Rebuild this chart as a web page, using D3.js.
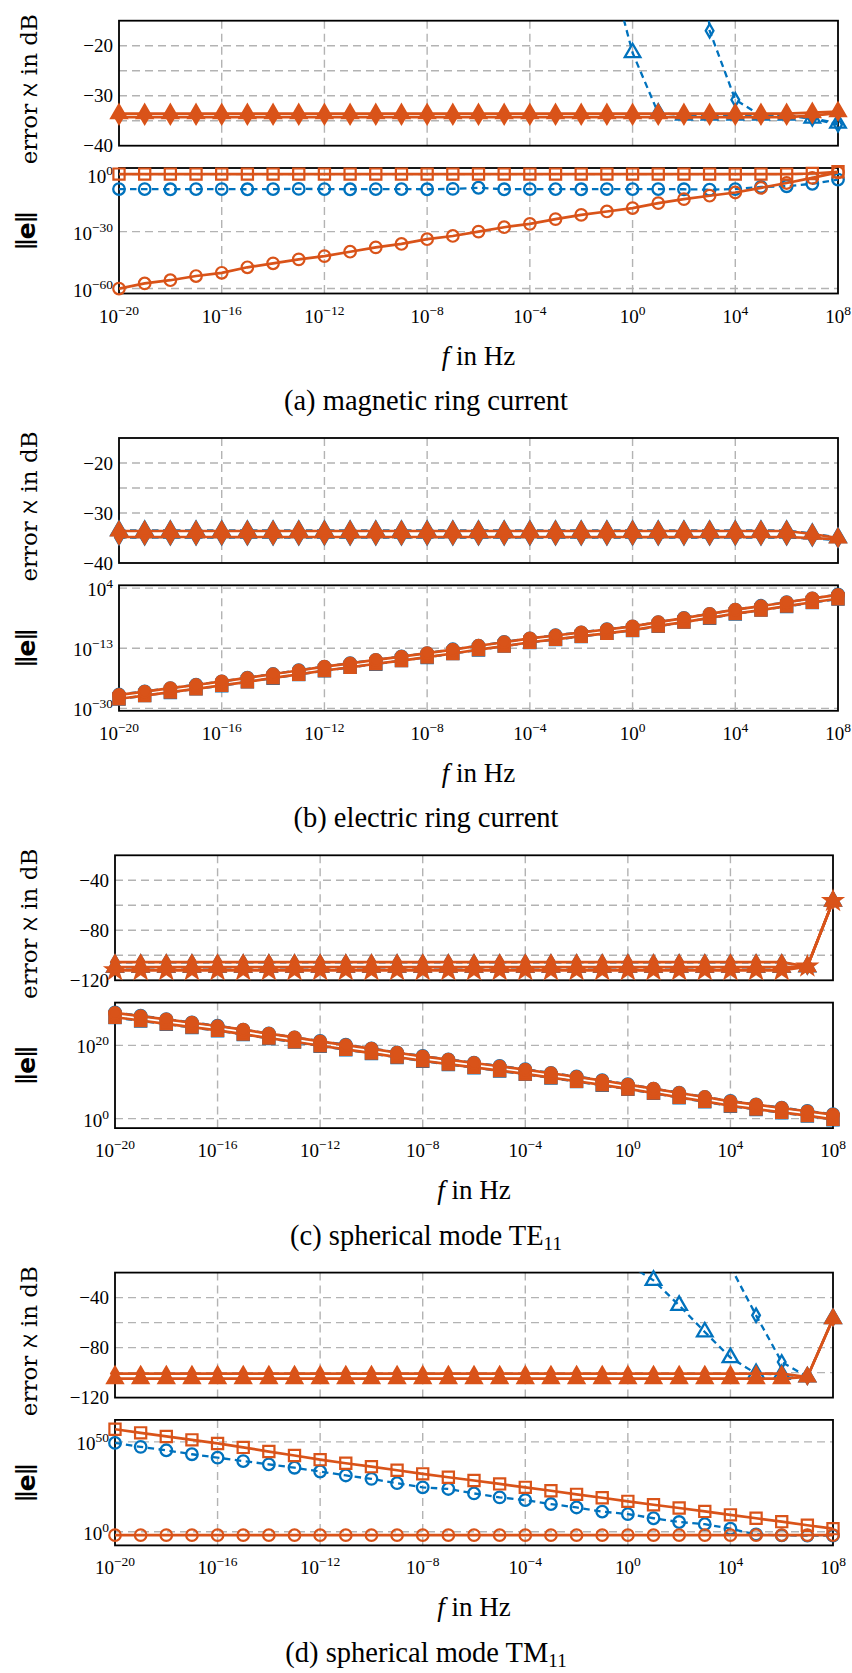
<!DOCTYPE html>
<html>
<head>
<meta charset="utf-8">
<script src="https://cdn.jsdelivr.net/npm/d3@7"></script>
<style>
  body { margin: 0; background: #fff; }
  svg text { font-family: "Liberation Serif", serif; fill: #000; }
</style>
</head>
<body>
<svg id="fig" width="852" height="1673"></svg>
<script>
// ---- frequency axis (exponents of 10, in Hz) ----
const freqExp = [-20,-19,-18,-17,-16,-15,-14,-13,-12,-11,-10,-9,-8,-7,-6,-5,-4,-3,-2,-1,0,1,2,3,4,5,6,7,8];
const xTickExp = [-20,-16,-12,-8,-4,0,4,8];

// ---- (a) magnetic ring current ----
// error in dB
const aErrBlueTri = [null,null,null,null,null,null,null,null,null,null,null,null,null,null,null,null,null,null,null,-2.0,-21.4,-33.5,-33.9,-33.9,-33.9,-33.9,-33.9,-34.5,-35.5];
const aErrBlueDia = [null,null,null,null,null,null,null,null,null,null,null,null,null,null,null,null,null,null,null,null,null,null,60,-17.0,-30.8,-34.0,-34.0,-34.6,-35.8];
const aErrOrTri   = [-33.6,-33.6,-33.6,-33.6,-33.6,-33.6,-33.6,-33.6,-33.6,-33.6,-33.6,-33.6,-33.6,-33.6,-33.6,-33.6,-33.6,-33.6,-33.6,-33.6,-33.6,-33.6,-33.6,-33.6,-33.6,-33.6,-33.6,-33.4,-33.2];
const aErrOrDia   = [-34.3,-34.3,-34.3,-34.3,-34.3,-34.3,-34.3,-34.3,-34.3,-34.3,-34.3,-34.3,-34.3,-34.3,-34.3,-34.3,-34.3,-34.3,-34.3,-34.3,-34.3,-34.3,-34.3,-34.3,-34.3,-34.3,-34.3,-34.0,-33.5];
// log10 of the error norm
const aNormOrSq     = [0.3,0.3,0.3,0.3,0.3,0.3,0.3,0.3,0.3,0.3,0.3,0.3,0.3,0.3,0.3,0.3,0.3,0.3,0.3,0.3,0.3,0.3,0.3,0.3,0.3,0.3,0.3,0.6,1.5];
const aNormBlueCirc = [-7.6,-7.6,-7.7,-7.6,-7.6,-7.7,-7.6,-7.5,-7.6,-7.7,-7.6,-7.6,-7.7,-7.5,-6.9,-7.7,-7.6,-7.6,-7.7,-7.6,-7.6,-7.6,-7.7,-7.9,-7.6,-6.5,-6.1,-4.8,-2.6];
const aNormOrCirc   = [-60.0,-57.3,-55.6,-53.4,-51.7,-48.8,-46.7,-44.6,-42.9,-40.6,-38.3,-36.5,-34.0,-32.3,-30.0,-27.7,-25.9,-23.4,-21.2,-19.4,-17.6,-15.0,-12.9,-11.1,-9.4,-7.0,-4.4,-1.7,1.2];

// ---- (b) electric ring current ----
const bErrBlueTri = [-33.5,-33.5,-33.5,-33.5,-33.5,-33.5,-33.5,-33.5,-33.5,-33.5,-33.5,-33.5,-33.5,-33.5,-33.5,-33.5,-33.5,-33.5,-33.5,-33.5,-33.5,-33.5,-33.5,-33.5,-33.5,-33.5,-33.5,-34.1,-34.9];
const bErrBlueDia = [-34.9,-34.9,-34.9,-34.9,-34.9,-34.9,-34.9,-34.9,-34.9,-34.9,-34.9,-34.9,-34.9,-34.9,-34.9,-34.9,-34.9,-34.9,-34.9,-34.9,-34.9,-34.9,-34.9,-34.9,-34.9,-34.9,-34.9,-35.1,-35.4];
const bErrOrTri   = [-33.6,-33.6,-33.6,-33.6,-33.6,-33.6,-33.6,-33.6,-33.6,-33.6,-33.6,-33.6,-33.6,-33.6,-33.6,-33.6,-33.6,-33.6,-33.6,-33.6,-33.6,-33.6,-33.6,-33.6,-33.6,-33.6,-33.6,-34.2,-35.0];
const bErrOrDia   = [-34.8,-34.8,-34.8,-34.8,-34.8,-34.8,-34.8,-34.8,-34.8,-34.8,-34.8,-34.8,-34.8,-34.8,-34.8,-34.8,-34.8,-34.8,-34.8,-34.8,-34.8,-34.8,-34.8,-34.8,-34.8,-34.8,-34.8,-35.0,-35.3];
const bNormBlueCirc = [-26.1,-25.2,-24.3,-23.3,-22.4,-21.3,-20.3,-19.2,-18.2,-17.2,-16.3,-15.3,-14.4,-13.3,-12.3,-11.2,-10.2,-9.3,-8.5,-7.6,-6.8,-5.6,-4.4,-3.3,-2.1,-1.0,0.0,1.1,2.2];
const bNormBlueSq   = [-27.4,-26.4,-25.5,-24.5,-23.6,-22.5,-21.5,-20.4,-19.4,-18.4,-17.5,-16.5,-15.6,-14.5,-13.5,-12.4,-11.4,-10.5,-9.7,-8.8,-8.0,-6.8,-5.6,-4.5,-3.3,-2.2,-1.2,-0.1,0.9];
const bNormOrCirc   = [-26.2,-25.3,-24.3,-23.4,-22.4,-21.4,-20.3,-19.3,-18.2,-17.3,-16.3,-15.4,-14.4,-13.4,-12.3,-11.3,-10.2,-9.4,-8.5,-7.7,-6.8,-5.6,-4.5,-3.3,-2.1,-1.1,0.0,1.1,2.1];
const bNormOrSq     = [-27.3,-26.4,-25.4,-24.5,-23.5,-22.5,-21.4,-20.4,-19.3,-18.4,-17.4,-16.5,-15.5,-14.5,-13.4,-12.4,-11.3,-10.5,-9.6,-8.8,-7.9,-6.7,-5.6,-4.4,-3.2,-2.2,-1.1,0.0,1.0];

// ---- (c) spherical mode TE11 ----
const cErrBlueTri = [-109.6,-109.6,-109.6,-109.6,-109.6,-109.6,-109.6,-109.6,-109.6,-109.6,-109.6,-109.6,-109.6,-109.6,-109.6,-109.6,-109.6,-109.6,-109.6,-109.6,-109.6,-109.6,-109.6,-109.6,-109.6,-109.6,-109.6,-109.2,-56.6];
const cErrBlueDia = [-105.6,-105.6,-105.6,-105.6,-105.6,-105.6,-105.6,-105.6,-105.6,-105.6,-105.6,-105.6,-105.6,-105.6,-105.6,-105.6,-105.6,-105.6,-105.6,-105.6,-105.6,-105.6,-105.6,-105.6,-105.6,-105.6,-105.6,-109.2,-56.6];
const cErrOrTri   = [-109.4,-109.4,-109.4,-109.4,-109.4,-109.4,-109.4,-109.4,-109.4,-109.4,-109.4,-109.4,-109.4,-109.4,-109.4,-109.4,-109.4,-109.4,-109.4,-109.4,-109.4,-109.4,-109.4,-109.4,-109.4,-109.4,-109.4,-109.0,-56.6];
const cErrOrDia   = [-105.4,-105.4,-105.4,-105.4,-105.4,-105.4,-105.4,-105.4,-105.4,-105.4,-105.4,-105.4,-105.4,-105.4,-105.4,-105.4,-105.4,-105.4,-105.4,-105.4,-105.4,-105.4,-105.4,-105.4,-105.4,-105.4,-105.4,-109.0,-56.6];
const cErrOrStar  = [-112.0,-112.0,-112.0,-112.0,-112.0,-112.0,-112.0,-112.0,-112.0,-112.0,-112.0,-112.0,-112.0,-112.0,-112.0,-112.0,-112.0,-112.0,-112.0,-112.0,-112.0,-112.0,-112.0,-112.0,-112.0,-112.0,-112.0,-109.0,-56.6];
const cNormBlueCirc = [29.0,28.1,27.2,26.3,25.4,24.3,23.3,22.2,21.2,20.2,19.2,18.1,17.1,16.2,15.3,14.4,13.5,12.5,11.5,10.5,9.4,8.2,7.1,5.9,4.8,3.9,3.0,2.1,1.2];
const cNormBlueSq   = [27.6,26.7,25.8,24.9,24.0,23.0,21.9,20.9,19.8,18.8,17.8,16.7,15.7,14.8,13.9,13.0,12.1,11.1,10.1,9.1,8.0,6.9,5.7,4.6,3.4,2.5,1.6,0.7,-0.3];
const cNormOrCirc   = [28.9,28.0,27.1,26.2,25.3,24.3,23.2,22.2,21.1,20.1,19.1,18.0,17.0,16.1,15.2,14.3,13.4,12.4,11.4,10.4,9.3,8.2,7.0,5.9,4.7,3.8,2.9,2.0,1.1];
const cNormOrSq     = [27.7,26.8,25.9,25.0,24.1,23.1,22.0,21.0,19.9,18.9,17.9,16.8,15.8,14.9,14.0,13.1,12.2,11.2,10.2,9.2,8.1,7.0,5.8,4.7,3.5,2.6,1.7,0.8,-0.2];

// ---- (d) spherical mode TM11 ----
const dErrBlueTri = [null,null,null,null,null,null,null,null,null,null,null,null,null,null,null,null,null,null,null,0.0,-13.2,-26.2,-46.2,-67.5,-88.0,-100.8,-101.5,-103.5,-56.8];
const dErrBlueDia = [null,null,null,null,null,null,null,null,null,null,null,null,null,null,null,null,null,null,null,null,null,null,null,null,-15.0,-54.2,-91.5,-103.5,-56.8];
const dErrOrTri   = [-104.8,-104.8,-104.8,-104.8,-104.8,-104.8,-104.8,-104.8,-104.8,-104.8,-104.8,-104.8,-104.8,-104.8,-104.8,-104.8,-104.8,-104.8,-104.8,-104.8,-104.8,-104.8,-104.8,-104.8,-104.8,-104.8,-104.8,-103.5,-56.8];
const dErrOrDia   = [-100.8,-100.8,-100.8,-100.8,-100.8,-100.8,-100.8,-100.8,-100.8,-100.8,-100.8,-100.8,-100.8,-100.8,-100.8,-100.8,-100.8,-100.8,-100.8,-100.8,-100.8,-100.8,-100.8,-100.8,-100.8,-100.8,-100.8,-103.5,-56.8];
const dNormOrSq     = [57.0,55.0,53.0,51.1,49.1,46.9,44.6,42.4,40.1,38.1,36.2,34.2,32.2,30.3,28.5,26.6,24.7,22.8,20.8,18.9,16.9,15.0,13.2,11.3,9.4,7.5,5.6,3.6,1.7];
const dNormBlueCirc = [49.4,47.2,45.3,43.1,41.2,39.3,37.5,35.6,33.5,31.3,29.4,27.0,24.7,23.8,21.3,19.1,17.6,15.4,13.5,11.2,9.8,7.5,5.4,4.2,1.7,-1.5,-2.0,-2.2,-2.2];
const dNormOrCirc   = [-1.9,-1.9,-1.9,-1.9,-1.9,-1.9,-1.9,-1.9,-1.9,-1.9,-1.9,-1.9,-1.9,-1.9,-1.9,-1.9,-1.9,-1.9,-1.9,-1.9,-1.9,-1.9,-1.9,-1.9,-1.9,-1.9,-1.9,-1.9,-1.9];

// ---- styles ----
const BLUE = "#0072BD", ORANGE = "#D95319", GRID = "#b3b3b3";
const symbolType = { tri: d3.symbolTriangle, dia: d3.symbolDiamond, star: d3.symbolStar, circ: d3.symbolCircle, sq: d3.symbolSquare };
const symbolArea = { tri: 105, dia: 52, star: 95, circ: 105, sq: 125 };
const blue   = (v, m) => ({ v, color: BLUE, dashed: true, m, filled: false });
const orange = (v, m, filled) => ({ v, color: ORANGE, dashed: false, m, filled });

const panels = [
  { caption: ["(a) magnetic ring current"], xr: [119, 838],
    errDomain: [-40, -15], errGrid: [-35, -30, -25, -20], errTicks: [-20, -30, -40],
    errSeries: [blue(aErrBlueTri, "tri"), blue(aErrBlueDia, "dia"), orange(aErrOrDia, "dia", true), orange(aErrOrTri, "tri", true)],
    normDomain: [-62.6, 3.5], normTicks: [0, -30, -60],
    normSeries: [blue(aNormBlueCirc, "circ"), orange(aNormOrCirc, "circ", false), orange(aNormOrSq, "sq", false)] },
  { caption: ["(b) electric ring current"], xr: [119, 838],
    errDomain: [-40, -15], errGrid: [-35, -30, -25, -20], errTicks: [-20, -30, -40],
    errSeries: [blue(bErrBlueTri, "tri"), blue(bErrBlueDia, "dia"), orange(bErrOrDia, "dia", true), orange(bErrOrTri, "tri", true)],
    normDomain: [-30.7, 4.8], normTicks: [4, -13, -30],
    normSeries: [blue(bNormBlueSq, "sq"), blue(bNormBlueCirc, "circ"), orange(bNormOrSq, "sq", true), orange(bNormOrCirc, "circ", true)] },
  { caption: ["(c) spherical mode TE", "11"], xr: [115, 833],
    errDomain: [-120, -20], errGrid: [-100, -80, -60, -40], errTicks: [-40, -80, -120],
    errSeries: [blue(cErrBlueTri, "tri"), blue(cErrBlueDia, "dia"), orange(cErrOrStar, "star", true), orange(cErrOrDia, "dia", true), orange(cErrOrTri, "tri", true)],
    normDomain: [-2.6, 31.7], normTicks: [0, 20],
    normSeries: [blue(cNormBlueSq, "sq"), blue(cNormBlueCirc, "circ"), orange(cNormOrSq, "sq", true), orange(cNormOrCirc, "circ", true)] },
  { caption: ["(d) spherical mode TM", "11"], xr: [115, 833],
    errDomain: [-120, -20], errGrid: [-100, -80, -60, -40], errTicks: [-40, -80, -120],
    errSeries: [blue(dErrBlueTri, "tri"), blue(dErrBlueDia, "dia"), orange(dErrOrDia, "dia", true), orange(dErrOrTri, "tri", true)],
    normDomain: [-7.6, 62.2], normTicks: [0, 50],
    normSeries: [blue(dNormBlueCirc, "circ"), orange(dNormOrCirc, "circ", false), orange(dNormOrSq, "sq", false)] }
];

// ---- layout ----
const panelStep = 417.3;
const upperBox = [20.7, 145.7], lowerBox = [168, 293.5];
const svg = d3.select("#fig");
const defs = svg.append("defs");
let clipId = 0;

const minus = n => (n < 0 ? "\u2212" + Math.abs(n) : String(n));

function powerLabel(sel, e) {
  sel.text("10");
  sel.append("tspan").attr("dy", -8).attr("font-size", 13.5).text(minus(e));
}

function drawAxes(g, x, y, x0, x1, y0, y1, hGrid, isLog) {
  // dashed grid
  const grid = g.append("g").attr("stroke", GRID).attr("stroke-width", 1.4).attr("stroke-dasharray", "8,5");
  xTickExp.slice(1, -1).forEach(e => {
    grid.append("line").attr("x1", x(10 ** e)).attr("x2", x(10 ** e)).attr("y1", y0).attr("y2", y1);
  });
  hGrid.forEach(t => {
    const yy = y(isLog ? 10 ** t : t);
    grid.append("line").attr("x1", x0).attr("x2", x1).attr("y1", yy).attr("y2", yy);
  });
  g.append("rect").attr("x", x0).attr("y", y0).attr("width", x1 - x0).attr("height", y1 - y0)
    .attr("fill", "none").attr("stroke", "#000").attr("stroke-width", 1.8);
}

function drawSeries(g, x, y, list, isLog, dom, x0, x1, y0, y1) {
  const id = "clip" + (clipId++);
  defs.append("clipPath").attr("id", id).append("rect")
    .attr("x", x0).attr("y", y0).attr("width", x1 - x0).attr("height", y1 - y0);
  const yv = v => y(isLog ? 10 ** v : v);
  list.forEach(s => {
    const pts = freqExp.map((e, i) => ({ f: 10 ** e, v: s.v[i] }));
    const line = d3.line().defined(d => d.v !== null).x(d => x(d.f)).y(d => yv(d.v));
    g.append("path").datum(pts).attr("d", line).attr("clip-path", `url(#${id})`)
      .attr("fill", "none").attr("stroke", s.color)
      .attr("stroke-width", s.dashed ? 2.3 : 2.7)
      .attr("stroke-dasharray", s.dashed ? "6.5,4.5" : null)
      .attr("stroke-linejoin", "round");
    const sym = d3.symbol().type(symbolType[s.m]).size(symbolArea[s.m]);
    g.append("g").selectAll("path")
      .data(pts.filter(d => d.v !== null && d.v >= dom[0] && d.v <= dom[1]))
      .join("path")
      .attr("transform", d => `translate(${x(d.f)},${yv(d.v)})`)
      .attr("d", sym())
      .attr("fill", s.filled ? s.color : "none")
      .attr("stroke", s.color)
      .attr("stroke-width", s.dashed ? 2.3 : 2.2);
  });
}

panels.forEach((p, k) => {
  const oy = k * panelStep;
  const [x0, x1] = p.xr;
  const g = svg.append("g");
  const x = d3.scaleLog().domain([10 ** freqExp[0], 10 ** freqExp[freqExp.length - 1]]).range([x0, x1]);

  // upper: error in dB
  const uy0 = upperBox[0] + oy, uy1 = upperBox[1] + oy;
  const yErr = d3.scaleLinear().domain(p.errDomain).range([uy1, uy0]);
  drawAxes(g, x, yErr, x0, x1, uy0, uy1, p.errGrid, false);
  p.errTicks.forEach(t => {
    g.append("text").attr("x", x0 - 6).attr("y", yErr(t) + 6.5).attr("text-anchor", "end")
      .attr("font-size", 19).text(minus(t));
  });
  drawSeries(g, x, yErr, p.errSeries, false, p.errDomain, x0, x1, uy0, uy1);
  g.append("text").attr("transform", `translate(29,${(uy0 + uy1) / 2 + 6}) rotate(-90)`)
    .attr("text-anchor", "middle").attr("dominant-baseline", "central")
    .style("font-family", "'DejaVu Serif', serif").attr("font-size", 23)
    .text("error \u2135 in dB");

  // lower: error norm (log)
  const ly0 = lowerBox[0] + oy, ly1 = lowerBox[1] + oy;
  const yNorm = d3.scaleLog().domain([10 ** p.normDomain[0], 10 ** p.normDomain[1]]).range([ly1, ly0]);
  drawAxes(g, x, yNorm, x0, x1, ly0, ly1, p.normTicks, true);
  p.normTicks.forEach(t => {
    g.append("text").attr("x", x0 - 6).attr("y", yNorm(10 ** t) + 8).attr("text-anchor", "end")
      .attr("font-size", 19).call(powerLabel, t);
  });
  drawSeries(g, x, yNorm, p.normSeries, true, p.normDomain, x0, x1, ly0, ly1);
  const nl = g.append("text").attr("transform", `translate(26,${(ly0 + ly1) / 2}) rotate(-90)`)
    .attr("text-anchor", "middle").attr("dominant-baseline", "central")
    .attr("font-size", 31).attr("font-weight", "bold");
  nl.append("tspan").text("\u2016");
  nl.append("tspan").style("font-family", "'DejaVu Sans', sans-serif").attr("font-size", 25).text("e");
  nl.append("tspan").text("\u2016");

  // frequency ticks
  xTickExp.forEach(e => {
    g.append("text").attr("x", x(10 ** e)).attr("y", ly1 + 29).attr("text-anchor", "middle")
      .attr("font-size", 19).call(powerLabel, e);
  });

  // x label
  const xl = g.append("text").attr("x", (x0 + x1) / 2).attr("y", ly1 + 71).attr("text-anchor", "middle").attr("font-size", 27);
  xl.append("tspan").attr("font-style", "italic").text("f");
  xl.append("tspan").text(" in Hz");

  // caption
  const cap = g.append("text").attr("x", 426).attr("y", ly1 + 116.5).attr("text-anchor", "middle").attr("font-size", 28.5);
  cap.append("tspan").text(p.caption[0]);
  if (p.caption[1]) cap.append("tspan").attr("font-size", 19).attr("dy", 5).text(p.caption[1]);
});
</script>
</body>
</html>
